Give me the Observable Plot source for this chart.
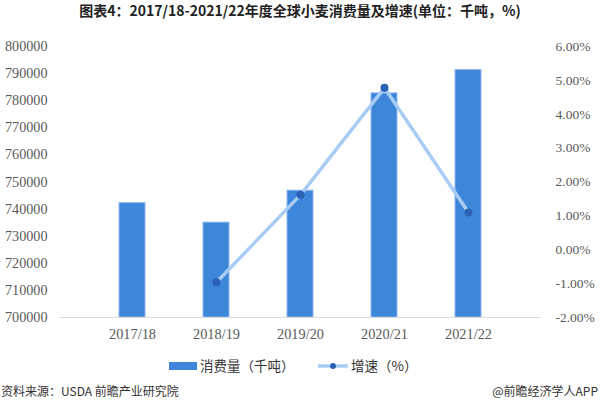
<!DOCTYPE html>
<html><head><meta charset="utf-8">
<script src="https://cdn.jsdelivr.net/npm/d3@7"></script>
<script src="https://cdn.jsdelivr.net/npm/@observablehq/plot@0.6"></script>
<style>
html,body{margin:0;padding:0;background:#fff;width:600px;height:410px;overflow:hidden;}
#title{height:32px;line-height:34px;text-align:center;font:bold 14px "Noto Sans CJK SC","Noto Sans",sans-serif;color:#222;}
#chart{height:320px;}
#legend{position:absolute;top:356px;left:0;width:600px;height:20px;}
#src{position:absolute;top:382px;left:1px;font:12px "Noto Sans CJK SC",sans-serif;color:#333;}
#app{position:absolute;top:382px;right:2px;font:12px "Noto Sans CJK SC",sans-serif;color:#333;}
</style></head>
<body>
<div id="title">图表4：2017/18-2021/22年度全球小麦消费量及增速(单位：千吨，%)</div>
<div id="chart"></div>
<div id="legend"></div>
<div id="src">资料来源：USDA 前瞻产业研究院</div>
<div id="app">@前瞻经济学人APP</div>
<script>
const years = ["2017/18","2018/19","2019/20","2020/21","2021/22"];
const consumption = [742200, 735000, 746800, 782700, 791300];
const growth = [null, -0.96, 1.62, 4.78, 1.10];
const leftTicks = [700000,710000,720000,730000,740000,750000,760000,770000,780000,790000,800000];
const rightTicks = [-2,-1,0,1,2,3,4,5,6];
const legendLabels = ["消费量（千吨）","增速（%）"];

const barColor = "#3e86da";
const lineColor = "#a8ccf4";
const dotColor = "#2b62b5";

// map growth (%) onto the left-axis value range
const gMin = -2, gMax = 6, yMin = 700000, yMax = 800000;
const g2y = g => yMin + (g - gMin) / (gMax - gMin) * (yMax - yMin);
const y2g = y => gMin + (y - yMin) / (yMax - yMin) * (gMax - gMin);

const bars = years.map((yr, i) => ({year: yr, value: consumption[i]}));
const pts = years.map((yr, i) => ({year: yr, g: growth[i]})).filter(d => d.g !== null);

const axisFont = '"Liberation Serif","DejaVu Serif",serif';

const plot = Plot.plot({
  width: 600,
  height: 320,
  marginTop: 14,
  marginBottom: 35,
  marginLeft: 60,
  marginRight: 60,
  style: {fontFamily: axisFont, fontSize: "14px", color: "#595959", background: "#fff"},
  x: {domain: years, padding: 0.69, label: null},
  y: {domain: [yMin, yMax], label: null},
  marks: [
    Plot.barY(bars, {x: "year", y1: yMin, y2: "value", fill: barColor, stroke: "#8db7ec", strokeWidth: 1}),
    Plot.ruleY([yMin], {stroke: "#d9d9d9", strokeWidth: 1.2}),
    Plot.line(pts, {x: "year", y: d => g2y(d.g), stroke: lineColor, strokeWidth: 3.5}),
    Plot.dot(pts, {x: "year", y: d => g2y(d.g), r: 3.3, fill: dotColor, stroke: dotColor}),
    Plot.axisY(leftTicks, {anchor: "left", tickSize: 0, tickPadding: 13, tickFormat: d => String(d), label: null, fontSize: 14.2}),
    Plot.axisY(rightTicks.map(g2y), {anchor: "right", tickSize: 0, tickPadding: 15, tickFormat: d => y2g(d).toFixed(2) + "%", label: null, fontSize: 13.5}),
    Plot.axisX({tickSize: 0, tickPadding: 11, label: null, fontSize: 14.3})
  ]
});
document.getElementById("chart").appendChild(plot);

// legend
const lgFont = '13.5px "Noto Sans CJK SC",sans-serif';
const lg = d3.select("#legend").append("svg").attr("width", 600).attr("height", 20);
lg.append("rect").attr("x", 169).attr("y", 6).attr("width", 28).attr("height", 8).attr("fill", barColor);
lg.append("text").attr("x", 200).attr("y", 15).text(legendLabels[0]).style("font", lgFont).attr("fill", "#333");
lg.append("line").attr("x1", 318).attr("x2", 348).attr("y1", 10).attr("y2", 10).attr("stroke", lineColor).attr("stroke-width", 3.5);
lg.append("circle").attr("cx", 333).attr("cy", 10).attr("r", 3).attr("fill", dotColor);
lg.append("text").attr("x", 351).attr("y", 15).text(legendLabels[1]).style("font", lgFont).attr("fill", "#333");
</script>
</body></html>
